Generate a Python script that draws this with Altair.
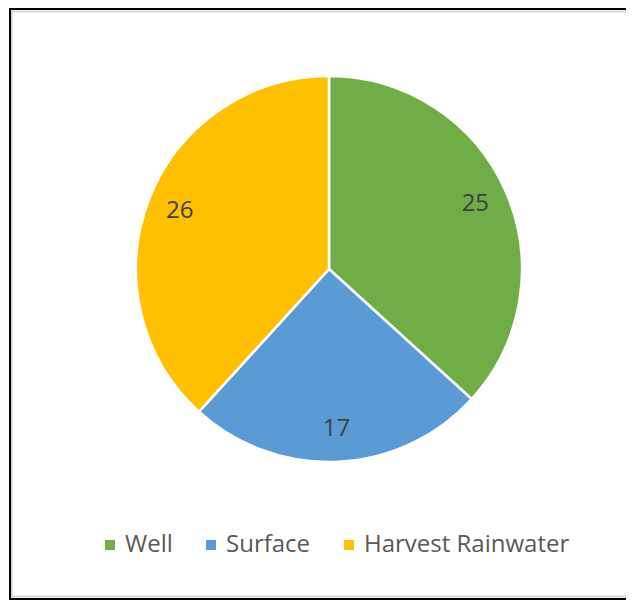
import altair as alt
import pandas as pd

categories = ["Well", "Surface", "Harvest Rainwater"]
values = [25, 17, 26]
colors = ["#70AD47", "#5B9BD5", "#FFC000"]
order_idx = [0, 1, 2]

df = pd.DataFrame({"category": categories, "value": values, "idx": order_idx})

W, H = 618, 592
CX, CY, R = 321, 261, 193

base = alt.Chart(df).encode(
    theta=alt.Theta("value:Q", stack=True),
    order=alt.Order("idx:Q", sort="ascending"),
    x=alt.value(CX),
    y=alt.value(CY),
)

pie = base.mark_arc(radius=R, stroke="white", strokeWidth=2.5).encode(
    color=alt.Color(
        "category:N",
        scale=alt.Scale(domain=categories, range=colors),
        legend=alt.Legend(
            title=None,
            orient="none",
            direction="horizontal",
            legendX=90,
            legendY=525,
            symbolType="square",
            symbolSize=100,
            symbolStrokeWidth=0,
            labelFont="Open Sans",
            labelFontSize=24,
            labelColor="#595959",
            labelOffset=3,
            labelLimit=0,
            columnPadding=26,
        ),
    )
)

labels = base.mark_text(
    radius=160, font="Open Sans", fontSize=24, color="#404040"
).encode(text=alt.Text("value:Q"))

frame_df = pd.DataFrame({"f": [0]})
left_shadow = alt.Chart(frame_df).mark_rule(stroke="#d9d9d9", strokeWidth=2).encode(
    x=alt.value(4), y=alt.value(3), y2=alt.value(H - 3))
top_shadow = alt.Chart(frame_df).mark_rule(stroke="#d9d9d9", strokeWidth=2).encode(
    x=alt.value(3), x2=alt.value(W), y=alt.value(3.5))
bottom_shadow = alt.Chart(frame_df).mark_rule(stroke="#d9d9d9", strokeWidth=2).encode(
    x=alt.value(3), x2=alt.value(W), y=alt.value(H - 3.5))
left = alt.Chart(frame_df).mark_rule(stroke="black", strokeWidth=2).encode(
    x=alt.value(2), y=alt.value(0), y2=alt.value(H))
top = alt.Chart(frame_df).mark_rule(stroke="black", strokeWidth=2).encode(
    x=alt.value(1), x2=alt.value(W), y=alt.value(1))
bottom = alt.Chart(frame_df).mark_rule(stroke="black", strokeWidth=2).encode(
    x=alt.value(1), x2=alt.value(W), y=alt.value(H - 1))

chart = (
    alt.layer(left_shadow, top_shadow, bottom_shadow, left, top, bottom, pie, labels)
    .properties(width=W, height=H, padding=0, autosize=alt.AutoSizeParams(type="none"), background="white")
    .configure_view(stroke=None)
)

chart.save("out.html", embed_options={"renderer": "svg", "actions": False})
